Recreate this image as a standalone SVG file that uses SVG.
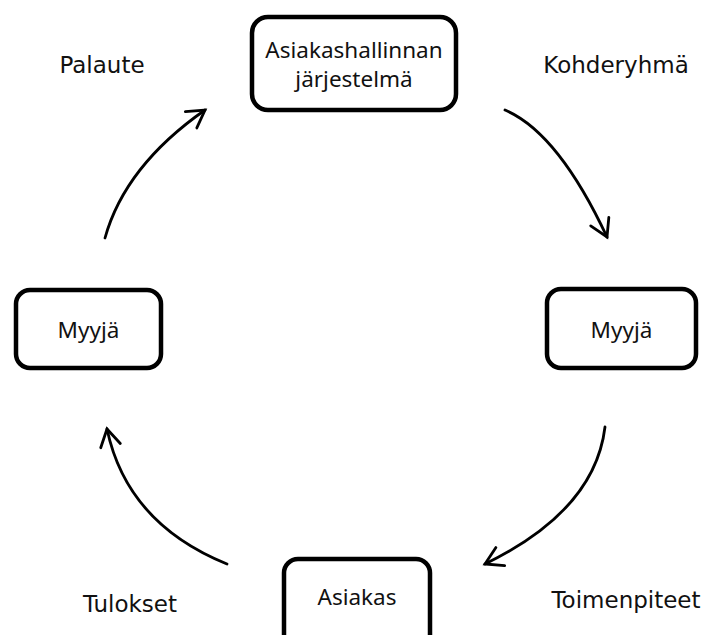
<svg xmlns="http://www.w3.org/2000/svg" width="708" height="635" viewBox="0 0 708 635">
<defs>
<style>
.box{fill:#fff;stroke:#000;stroke-width:4.5}
.bt{font-family:"Noto Sans","Open Sans",sans-serif;font-size:22.5px;fill:#111;text-anchor:middle}
.lb{font-family:"DejaVu Sans","Noto Sans",sans-serif;font-size:23px;fill:#111;text-anchor:middle}
.conn{fill:none;stroke:#000;stroke-width:2.8;stroke-linecap:round}
</style>
<marker id="ah" markerUnits="userSpaceOnUse" markerWidth="26" markerHeight="26" refX="20" refY="10" orient="auto" overflow="visible">
<path d="M3,0 L20,10 L3,20" fill="none" stroke="#000" stroke-width="2.8" stroke-linecap="round" stroke-linejoin="miter"/>
</marker>
</defs>
<rect width="708" height="635" fill="#fff"/>
<g id="connectors">
<path class="conn" d="M105,238 Q125,166 205,110" marker-end="url(#ah)"/>
<path class="conn" d="M505,110 Q558,132.5 607,237" marker-end="url(#ah)"/>
<path class="conn" d="M605,427 Q595,510.5 485,564" marker-end="url(#ah)"/>
<path class="conn" d="M227,564 Q127,523.5 107,429" marker-end="url(#ah)"/>
</g>
<g id="node-crm">
<rect class="box" x="252" y="17" width="204" height="93" rx="16"/>
<text class="bt" x="354" y="58">Asiakashallinnan</text>
<text class="bt" x="354" y="87">järjestelmä</text>
</g>
<g id="node-myyja-left">
<rect class="box" x="16" y="290" width="145" height="78" rx="14"/>
<text class="bt" x="88.5" y="338">Myyjä</text>
</g>
<g id="node-myyja-right">
<rect class="box" x="547" y="289" width="149" height="79" rx="14"/>
<text class="bt" x="621.5" y="338">Myyjä</text>
</g>
<g id="node-asiakas">
<rect class="box" x="284" y="559" width="146" height="100" rx="14"/>
<text class="bt" x="357" y="605">Asiakas</text>
</g>
<g id="labels">
<text class="lb" x="102" y="73">Palaute</text>
<text class="lb" x="616" y="73">Kohderyhmä</text>
<text class="lb" x="130" y="612">Tulokset</text>
<text class="lb" x="626" y="608">Toimenpiteet</text>
</g>
</svg>
